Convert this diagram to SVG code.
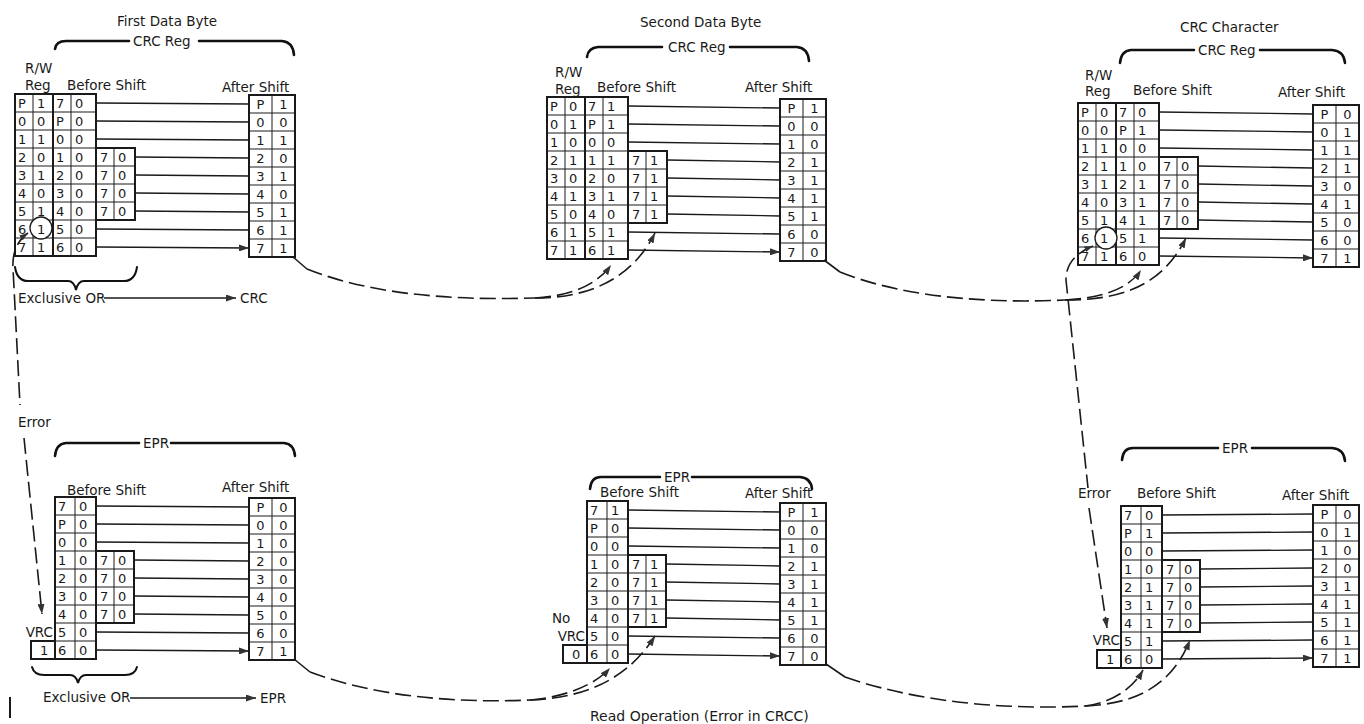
<svg xmlns="http://www.w3.org/2000/svg" xmlns:xlink="http://www.w3.org/1999/xlink" width="1364" height="724" viewBox="0 0 1364 724">
<style>
.t{font-family:"DejaVu Sans","Liberation Sans",sans-serif;font-size:13px;fill:#1a1a1a}
.l{font-family:"DejaVu Sans","Liberation Sans",sans-serif;font-size:13.5px;fill:#1a1a1a}
.m{text-anchor:middle}
.e{text-anchor:end}
.bx{fill:none;stroke:#1a1a1a;stroke-width:2}
.g{fill:none;stroke:#1a1a1a;stroke-width:1}
.ar{fill:none;stroke:#1a1a1a;stroke-width:1.3;marker-end:url(#ah)}
.ds{fill:none;stroke:#1a1a1a;stroke-width:1.6;stroke-dasharray:16 6}
.dsa{fill:none;stroke:#1a1a1a;stroke-width:1.6;stroke-dasharray:16 6;marker-end:url(#ah2)}
.sl{fill:none;stroke:#1a1a1a;stroke-width:1.6}
.br{fill:none;stroke:#111;stroke-width:2.6;stroke-linecap:round}
.ci{fill:#fff;stroke:#1a1a1a;stroke-width:1.3}
</style>
<defs>
<marker id="ah" viewBox="0 0 10 7" refX="10" refY="3.5" markerWidth="10" markerHeight="7" markerUnits="userSpaceOnUse" orient="auto"><path d="M0,0 L10,3.5 L0,7 z" fill="#333"/></marker>
<marker id="ah2" viewBox="0 0 10 7" refX="10" refY="3.5" markerWidth="10" markerHeight="7" markerUnits="userSpaceOnUse" orient="auto"><path d="M0,0 L10,3.5 L0,7 z" fill="#333"/></marker>
<marker id="ahs" viewBox="0 0 10 7" refX="10" refY="3.5" markerWidth="9" markerHeight="6" markerUnits="userSpaceOnUse" orient="auto-start-reverse"><path d="M0,0 L10,3.5 L0,7 z" fill="#333"/></marker>
<g id="gridTB">
<path class="g" d="M18 0V162M56 0V162M0 18H81M0 36H81M0 54H120M0 72H120M0 90H120M0 108H120M0 126H81M0 144H81M99 54V126"/>
<rect class="bx" x="0" y="0" width="81" height="162"/>
<line class="bx" x1="38" y1="0" x2="38" y2="162"/>
<rect class="bx" x="81" y="54" width="39" height="72"/>
</g>
<g id="gridBB">
<path class="g" d="M20 0V162M0 18H41M0 36H41M0 54H79M0 72H79M0 90H79M0 108H79M0 126H41M0 144H41M59 54V126"/>
<rect class="bx" x="0" y="0" width="41" height="162"/>
<rect class="bx" x="41" y="54" width="38" height="72"/>
<rect class="bx" x="-24" y="144" width="24" height="18"/>
</g>
<g id="gridAF">
<path class="g" d="M23 0V162M0 18H46M0 36H46M0 54H46M0 72H46M0 90H46M0 108H46M0 126H46M0 144H46"/>
<rect class="bx" x="0" y="0" width="46" height="162"/>
</g>
</defs>
<rect width="1364" height="724" fill="#fff"/>

<!-- Panel 1 -->
<g id="p1-header">
<text class="l" x="117" y="26">First Data Byte</text>
<path class="br" d="M55,49 Q56,41 66,41 L129,41 M199,41 L282,41 Q293,42 294,55"/>
<text class="l" x="133" y="46">CRC Reg</text>
<text class="l" x="25" y="73">R/W</text>
<text class="l" x="25" y="90">Reg</text>
<text class="l" x="67" y="90">Before Shift</text>
<text class="l" x="222" y="92">After Shift</text>
</g>
<g id="p1-before" transform="translate(15,94)">
<use href="#gridTB"/>
<circle class="ci" cx="26" cy="134" r="11"/>
<text class="t" y="14"><tspan x="3">P</tspan><tspan x="22">1</tspan><tspan x="41">7</tspan><tspan x="60">0</tspan></text>
<text class="t" y="32"><tspan x="3">0</tspan><tspan x="22">0</tspan><tspan x="41">P</tspan><tspan x="60">0</tspan></text>
<text class="t" y="50"><tspan x="3">1</tspan><tspan x="22">1</tspan><tspan x="41">0</tspan><tspan x="60">0</tspan></text>
<text class="t" y="68"><tspan x="3">2</tspan><tspan x="22">0</tspan><tspan x="41">1</tspan><tspan x="60">0</tspan><tspan x="85">7</tspan><tspan x="103">0</tspan></text>
<text class="t" y="86"><tspan x="3">3</tspan><tspan x="22">1</tspan><tspan x="41">2</tspan><tspan x="60">0</tspan><tspan x="85">7</tspan><tspan x="103">0</tspan></text>
<text class="t" y="104"><tspan x="3">4</tspan><tspan x="22">0</tspan><tspan x="41">3</tspan><tspan x="60">0</tspan><tspan x="85">7</tspan><tspan x="103">0</tspan></text>
<text class="t" y="122"><tspan x="3">5</tspan><tspan x="22">1</tspan><tspan x="41">4</tspan><tspan x="60">0</tspan><tspan x="85">7</tspan><tspan x="103">0</tspan></text>
<text class="t" y="140"><tspan x="3">6</tspan><tspan x="22">1</tspan><tspan x="41">5</tspan><tspan x="60">0</tspan></text>
<text class="t" y="158"><tspan x="3">7</tspan><tspan x="22">1</tspan><tspan x="41">6</tspan><tspan x="60">0</tspan></text>
</g>
<g id="p1-after" transform="translate(249,95)">
<use href="#gridAF"/>
<g class="t m">
<text x="11.5" y="14">P</text><text x="34.5" y="14">1</text>
<text x="11.5" y="32">0</text><text x="34.5" y="32">0</text>
<text x="11.5" y="50">1</text><text x="34.5" y="50">1</text>
<text x="11.5" y="68">2</text><text x="34.5" y="68">0</text>
<text x="11.5" y="86">3</text><text x="34.5" y="86">1</text>
<text x="11.5" y="104">4</text><text x="34.5" y="104">0</text>
<text x="11.5" y="122">5</text><text x="34.5" y="122">1</text>
<text x="11.5" y="140">6</text><text x="34.5" y="140">1</text>
<text x="11.5" y="158">7</text><text x="34.5" y="158">1</text>
</g>
</g>
<g id="p1-xor">
<path class="br" style="stroke-width:2" d="M15,267 Q17,281 28,281 L68,281 Q74,281 76,290 Q78,281 84,281 L124,281 Q135,281 137,267"/>
<text class="l" x="18" y="303">Exclusive OR</text>
<text class="l" x="240" y="303">CRC</text>
<text class="l" x="18" y="427">Error</text>
</g>

<!-- Panel 2 -->
<g id="p2-header">
<text class="l" x="640" y="27">Second Data Byte</text>
<path class="br" d="M587,57 Q588,48 598,47 L662,47 M730,47 L797,47 Q808,48 809,61"/>
<text class="l" x="668" y="52">CRC Reg</text>
<text class="l" x="555" y="77">R/W</text>
<text class="l" x="555" y="94">Reg</text>
<text class="l" x="597" y="92">Before Shift</text>
<text class="l" x="745" y="92">After Shift</text>
</g>
<g id="p2-before" transform="translate(547,97)">
<use href="#gridTB"/>
<text class="t" y="14"><tspan x="3">P</tspan><tspan x="22">0</tspan><tspan x="41">7</tspan><tspan x="60">1</tspan></text>
<text class="t" y="32"><tspan x="3">0</tspan><tspan x="22">1</tspan><tspan x="41">P</tspan><tspan x="60">1</tspan></text>
<text class="t" y="50"><tspan x="3">1</tspan><tspan x="22">0</tspan><tspan x="41">0</tspan><tspan x="60">0</tspan></text>
<text class="t" y="68"><tspan x="3">2</tspan><tspan x="22">1</tspan><tspan x="41">1</tspan><tspan x="60">1</tspan><tspan x="85">7</tspan><tspan x="103">1</tspan></text>
<text class="t" y="86"><tspan x="3">3</tspan><tspan x="22">0</tspan><tspan x="41">2</tspan><tspan x="60">0</tspan><tspan x="85">7</tspan><tspan x="103">1</tspan></text>
<text class="t" y="104"><tspan x="3">4</tspan><tspan x="22">1</tspan><tspan x="41">3</tspan><tspan x="60">1</tspan><tspan x="85">7</tspan><tspan x="103">1</tspan></text>
<text class="t" y="122"><tspan x="3">5</tspan><tspan x="22">0</tspan><tspan x="41">4</tspan><tspan x="60">0</tspan><tspan x="85">7</tspan><tspan x="103">1</tspan></text>
<text class="t" y="140"><tspan x="3">6</tspan><tspan x="22">1</tspan><tspan x="41">5</tspan><tspan x="60">1</tspan></text>
<text class="t" y="158"><tspan x="3">7</tspan><tspan x="22">1</tspan><tspan x="41">6</tspan><tspan x="60">1</tspan></text>
</g>
<g id="p2-after" transform="translate(780,99)">
<use href="#gridAF"/>
<g class="t m">
<text x="11.5" y="14">P</text><text x="34.5" y="14">1</text>
<text x="11.5" y="32">0</text><text x="34.5" y="32">0</text>
<text x="11.5" y="50">1</text><text x="34.5" y="50">0</text>
<text x="11.5" y="68">2</text><text x="34.5" y="68">1</text>
<text x="11.5" y="86">3</text><text x="34.5" y="86">1</text>
<text x="11.5" y="104">4</text><text x="34.5" y="104">1</text>
<text x="11.5" y="122">5</text><text x="34.5" y="122">1</text>
<text x="11.5" y="140">6</text><text x="34.5" y="140">0</text>
<text x="11.5" y="158">7</text><text x="34.5" y="158">0</text>
</g>
</g>

<!-- Panel 3 -->
<g id="p3-header">
<text class="l" x="1180" y="32">CRC Character</text>
<path class="br" d="M1120,63 Q1121,51 1131,50 L1194,50 M1260,50 L1332,50 Q1344,51 1345,63"/>
<text class="l" x="1198" y="55">CRC Reg</text>
<text class="l" x="1085" y="80">R/W</text>
<text class="l" x="1085" y="96">Reg</text>
<text class="l" x="1133" y="95">Before Shift</text>
<text class="l" x="1278" y="97">After Shift</text>
</g>
<g id="p3-before" transform="translate(1078,103)">
<use href="#gridTB"/>
<circle class="ci" cx="28" cy="135" r="11"/>
<text class="t" y="14"><tspan x="3">P</tspan><tspan x="22">0</tspan><tspan x="41">7</tspan><tspan x="60">0</tspan></text>
<text class="t" y="32"><tspan x="3">0</tspan><tspan x="22">0</tspan><tspan x="41">P</tspan><tspan x="60">1</tspan></text>
<text class="t" y="50"><tspan x="3">1</tspan><tspan x="22">1</tspan><tspan x="41">0</tspan><tspan x="60">0</tspan></text>
<text class="t" y="68"><tspan x="3">2</tspan><tspan x="22">1</tspan><tspan x="41">1</tspan><tspan x="60">0</tspan><tspan x="85">7</tspan><tspan x="103">0</tspan></text>
<text class="t" y="86"><tspan x="3">3</tspan><tspan x="22">1</tspan><tspan x="41">2</tspan><tspan x="60">1</tspan><tspan x="85">7</tspan><tspan x="103">0</tspan></text>
<text class="t" y="104"><tspan x="3">4</tspan><tspan x="22">0</tspan><tspan x="41">3</tspan><tspan x="60">1</tspan><tspan x="85">7</tspan><tspan x="103">0</tspan></text>
<text class="t" y="122"><tspan x="3">5</tspan><tspan x="22">1</tspan><tspan x="41">4</tspan><tspan x="60">1</tspan><tspan x="85">7</tspan><tspan x="103">0</tspan></text>
<text class="t" y="140"><tspan x="3">6</tspan><tspan x="22">1</tspan><tspan x="41">5</tspan><tspan x="60">1</tspan></text>
<text class="t" y="158"><tspan x="3">7</tspan><tspan x="22">1</tspan><tspan x="41">6</tspan><tspan x="60">0</tspan></text>
</g>
<g id="p3-after" transform="translate(1313,105)">
<use href="#gridAF"/>
<g class="t m">
<text x="11.5" y="14">P</text><text x="34.5" y="14">0</text>
<text x="11.5" y="32">0</text><text x="34.5" y="32">1</text>
<text x="11.5" y="50">1</text><text x="34.5" y="50">1</text>
<text x="11.5" y="68">2</text><text x="34.5" y="68">1</text>
<text x="11.5" y="86">3</text><text x="34.5" y="86">0</text>
<text x="11.5" y="104">4</text><text x="34.5" y="104">1</text>
<text x="11.5" y="122">5</text><text x="34.5" y="122">0</text>
<text x="11.5" y="140">6</text><text x="34.5" y="140">0</text>
<text x="11.5" y="158">7</text><text x="34.5" y="158">1</text>
</g>
</g>

<!-- Panel 4 -->
<g id="p4-header">
<path class="br" d="M55,456 Q56,444 66,443 L139,443 M171,443 L284,443 Q294,444 295,456"/>
<text class="l" x="143" y="448">EPR</text>
<text class="l" x="67" y="495">Before Shift</text>
<text class="l" x="222" y="492">After Shift</text>
<text class="l e" x="53" y="637">VRC</text>
</g>
<g id="p4-before" transform="translate(55,497)">
<use href="#gridBB"/>
<text class="t" y="14"><tspan x="3">7</tspan><tspan x="24">0</tspan></text>
<text class="t" y="32"><tspan x="3">P</tspan><tspan x="24">0</tspan></text>
<text class="t" y="50"><tspan x="3">0</tspan><tspan x="24">0</tspan></text>
<text class="t" y="68"><tspan x="3">1</tspan><tspan x="24">0</tspan><tspan x="45">7</tspan><tspan x="63">0</tspan></text>
<text class="t" y="86"><tspan x="3">2</tspan><tspan x="24">0</tspan><tspan x="45">7</tspan><tspan x="63">0</tspan></text>
<text class="t" y="104"><tspan x="3">3</tspan><tspan x="24">0</tspan><tspan x="45">7</tspan><tspan x="63">0</tspan></text>
<text class="t" y="122"><tspan x="3">4</tspan><tspan x="24">0</tspan><tspan x="45">7</tspan><tspan x="63">0</tspan></text>
<text class="t" y="140"><tspan x="3">5</tspan><tspan x="24">0</tspan></text>
<text class="t" y="158"><tspan x="-15">1</tspan><tspan x="3">6</tspan><tspan x="24">0</tspan></text>
</g>
<g id="p4-after" transform="translate(249,498)">
<use href="#gridAF"/>
<g class="t m">
<text x="11.5" y="14">P</text><text x="34.5" y="14">0</text>
<text x="11.5" y="32">0</text><text x="34.5" y="32">0</text>
<text x="11.5" y="50">1</text><text x="34.5" y="50">0</text>
<text x="11.5" y="68">2</text><text x="34.5" y="68">0</text>
<text x="11.5" y="86">3</text><text x="34.5" y="86">0</text>
<text x="11.5" y="104">4</text><text x="34.5" y="104">0</text>
<text x="11.5" y="122">5</text><text x="34.5" y="122">0</text>
<text x="11.5" y="140">6</text><text x="34.5" y="140">0</text>
<text x="11.5" y="158">7</text><text x="34.5" y="158">1</text>
</g>
</g>
<g id="p4-xor">
<path class="br" style="stroke-width:2" d="M32,667 Q34,675 44,675 L70,675 Q76,675 78,683 Q80,675 86,675 L125,675 Q135,675 137,667"/>
<text class="l" x="43" y="702">Exclusive OR</text>
<text class="l" x="260" y="703">EPR</text>
<line x1="10" y1="697" x2="10" y2="718" stroke="#1a1a1a" stroke-width="2"/>
</g>

<!-- Panel 5 -->
<g id="p5-header">
<path class="br" d="M590,489 Q591,477 601,477 L660,477 M692,477 L800,477 Q811,478 812,489"/>
<text class="l" x="664" y="482">EPR</text>
<text class="l" x="600" y="497">Before Shift</text>
<text class="l" x="745" y="498">After Shift</text>
<text class="l" x="552" y="623">No</text>
<text class="l e" x="585" y="641">VRC</text>
<text class="l" x="590" y="721" style="font-size:14px">Read Operation (Error in CRCC)</text>
</g>
<g id="p5-before" transform="translate(587,501)">
<use href="#gridBB"/>
<text class="t" y="14"><tspan x="3">7</tspan><tspan x="24">1</tspan></text>
<text class="t" y="32"><tspan x="3">P</tspan><tspan x="24">0</tspan></text>
<text class="t" y="50"><tspan x="3">0</tspan><tspan x="24">0</tspan></text>
<text class="t" y="68"><tspan x="3">1</tspan><tspan x="24">0</tspan><tspan x="45">7</tspan><tspan x="63">1</tspan></text>
<text class="t" y="86"><tspan x="3">2</tspan><tspan x="24">0</tspan><tspan x="45">7</tspan><tspan x="63">1</tspan></text>
<text class="t" y="104"><tspan x="3">3</tspan><tspan x="24">0</tspan><tspan x="45">7</tspan><tspan x="63">1</tspan></text>
<text class="t" y="122"><tspan x="3">4</tspan><tspan x="24">0</tspan><tspan x="45">7</tspan><tspan x="63">1</tspan></text>
<text class="t" y="140"><tspan x="3">5</tspan><tspan x="24">0</tspan></text>
<text class="t" y="158"><tspan x="-15">0</tspan><tspan x="3">6</tspan><tspan x="24">0</tspan></text>
</g>
<g id="p5-after" transform="translate(780,503)">
<use href="#gridAF"/>
<g class="t m">
<text x="11.5" y="14">P</text><text x="34.5" y="14">1</text>
<text x="11.5" y="32">0</text><text x="34.5" y="32">0</text>
<text x="11.5" y="50">1</text><text x="34.5" y="50">0</text>
<text x="11.5" y="68">2</text><text x="34.5" y="68">1</text>
<text x="11.5" y="86">3</text><text x="34.5" y="86">1</text>
<text x="11.5" y="104">4</text><text x="34.5" y="104">1</text>
<text x="11.5" y="122">5</text><text x="34.5" y="122">1</text>
<text x="11.5" y="140">6</text><text x="34.5" y="140">0</text>
<text x="11.5" y="158">7</text><text x="34.5" y="158">0</text>
</g>
</g>

<!-- Panel 6 -->
<g id="p6-header">
<path class="br" d="M1122,460 Q1123,448 1133,448 L1218,448 M1252,448 L1332,448 Q1344,449 1345,461"/>
<text class="l" x="1222" y="453">EPR</text>
<text class="l" x="1078" y="498">Error</text>
<text class="l" x="1137" y="498">Before Shift</text>
<text class="l" x="1282" y="500">After Shift</text>
<text class="l e" x="1120" y="645">VRC</text>
</g>
<g id="p6-before" transform="translate(1121,506)">
<use href="#gridBB"/>
<text class="t" y="14"><tspan x="3">7</tspan><tspan x="24">0</tspan></text>
<text class="t" y="32"><tspan x="3">P</tspan><tspan x="24">1</tspan></text>
<text class="t" y="50"><tspan x="3">0</tspan><tspan x="24">0</tspan></text>
<text class="t" y="68"><tspan x="3">1</tspan><tspan x="24">0</tspan><tspan x="45">7</tspan><tspan x="63">0</tspan></text>
<text class="t" y="86"><tspan x="3">2</tspan><tspan x="24">1</tspan><tspan x="45">7</tspan><tspan x="63">0</tspan></text>
<text class="t" y="104"><tspan x="3">3</tspan><tspan x="24">1</tspan><tspan x="45">7</tspan><tspan x="63">0</tspan></text>
<text class="t" y="122"><tspan x="3">4</tspan><tspan x="24">1</tspan><tspan x="45">7</tspan><tspan x="63">0</tspan></text>
<text class="t" y="140"><tspan x="3">5</tspan><tspan x="24">1</tspan></text>
<text class="t" y="158"><tspan x="-15">1</tspan><tspan x="3">6</tspan><tspan x="24">0</tspan></text>
</g>
<g id="p6-after" transform="translate(1313,505)">
<use href="#gridAF"/>
<g class="t m">
<text x="11.5" y="14">P</text><text x="34.5" y="14">0</text>
<text x="11.5" y="32">0</text><text x="34.5" y="32">1</text>
<text x="11.5" y="50">1</text><text x="34.5" y="50">0</text>
<text x="11.5" y="68">2</text><text x="34.5" y="68">0</text>
<text x="11.5" y="86">3</text><text x="34.5" y="86">1</text>
<text x="11.5" y="104">4</text><text x="34.5" y="104">1</text>
<text x="11.5" y="122">5</text><text x="34.5" y="122">1</text>
<text x="11.5" y="140">6</text><text x="34.5" y="140">1</text>
<text x="11.5" y="158">7</text><text x="34.5" y="158">1</text>
</g>
</g>

<!-- Connectors -->
<g id="connectors">
<path class="ar" d="M96,103L249,104M96,121L249,122M96,139L249,140M135,157L249,158M135,175L249,176M135,193L249,194M135,211L249,212M96,229L249,230M96,247L249,248"/>
<path class="ar" d="M628,106L780,108M628,124L780,126M628,142L780,144M667,160L780,162M667,178L780,180M667,196L780,198M667,214L780,216M628,232L780,234M628,250L780,252"/>
<path class="ar" d="M1159,112L1313,114M1159,130L1313,132M1159,148L1313,150M1198,166L1313,168M1198,184L1313,186M1198,202L1313,204M1198,220L1313,222M1159,238L1313,240M1159,256L1313,258"/>
<path class="ar" d="M96,506L249,507M96,524L249,525M96,542L249,543M134,560L249,561M134,578L249,579M134,596L249,597M134,614L249,615M96,632L249,633M96,650L249,651"/>
<path class="ar" d="M628,510L780,512M628,528L780,530M628,546L780,548M666,564L780,566M666,582L780,584M666,600L780,602M666,618L780,620M628,636L780,638M628,654L780,656"/>
<path class="ar" d="M1162,515L1313,514M1162,533L1313,532M1162,551L1313,550M1200,569L1313,568M1200,587L1313,586M1200,605L1313,604M1200,623L1313,622M1162,641L1313,640M1162,659L1313,658"/>
<path class="ar" d="M104,298L236,298"/>
<path class="ar" d="M130,698L256,698"/>
<!-- error lines -->
<path class="ds" style="marker-start:url(#ahs)" d="M28,233 C18,240 12,252 13,268 L20,405"/>
<path class="dsa" d="M24,438 L42,614"/>
<path class="ds" style="marker-start:url(#ahs)" d="M1093,246 C1078,252 1066,262 1066,280 L1088,488"/>
<path class="dsa" d="M1089,508 L1107,628"/>
<!-- carry curves -->
<path class="sl" d="M293,257 L307,269"/>
<path class="ds" d="M307,269 C380,298 470,300 535,298"/>
<path class="dsa" d="M535,298 C570,296 597,285 611,265"/>
<path class="dsa" d="M535,298 C585,298 630,282 655,233"/>
<path class="sl" d="M824,260 L840,272"/>
<path class="ds" d="M840,272 C910,300 1000,303 1065,300"/>
<path class="dsa" d="M1065,300 C1100,298 1128,290 1141,270"/>
<path class="dsa" d="M1065,300 C1115,300 1160,290 1186,238"/>
<path class="sl" d="M294,659 L310,672"/>
<path class="ds" d="M310,672 C380,698 460,703 530,700"/>
<path class="dsa" d="M530,700 C565,697 595,685 610,668"/>
<path class="dsa" d="M530,700 C580,698 625,683 655,636"/>
<path class="sl" d="M826,664 L845,677"/>
<path class="ds" d="M845,677 C920,703 1010,710 1085,706"/>
<path class="dsa" d="M1085,706 C1110,703 1132,690 1143,670"/>
<path class="dsa" d="M1085,706 C1130,704 1170,690 1190,640"/>
</g>
</svg>
